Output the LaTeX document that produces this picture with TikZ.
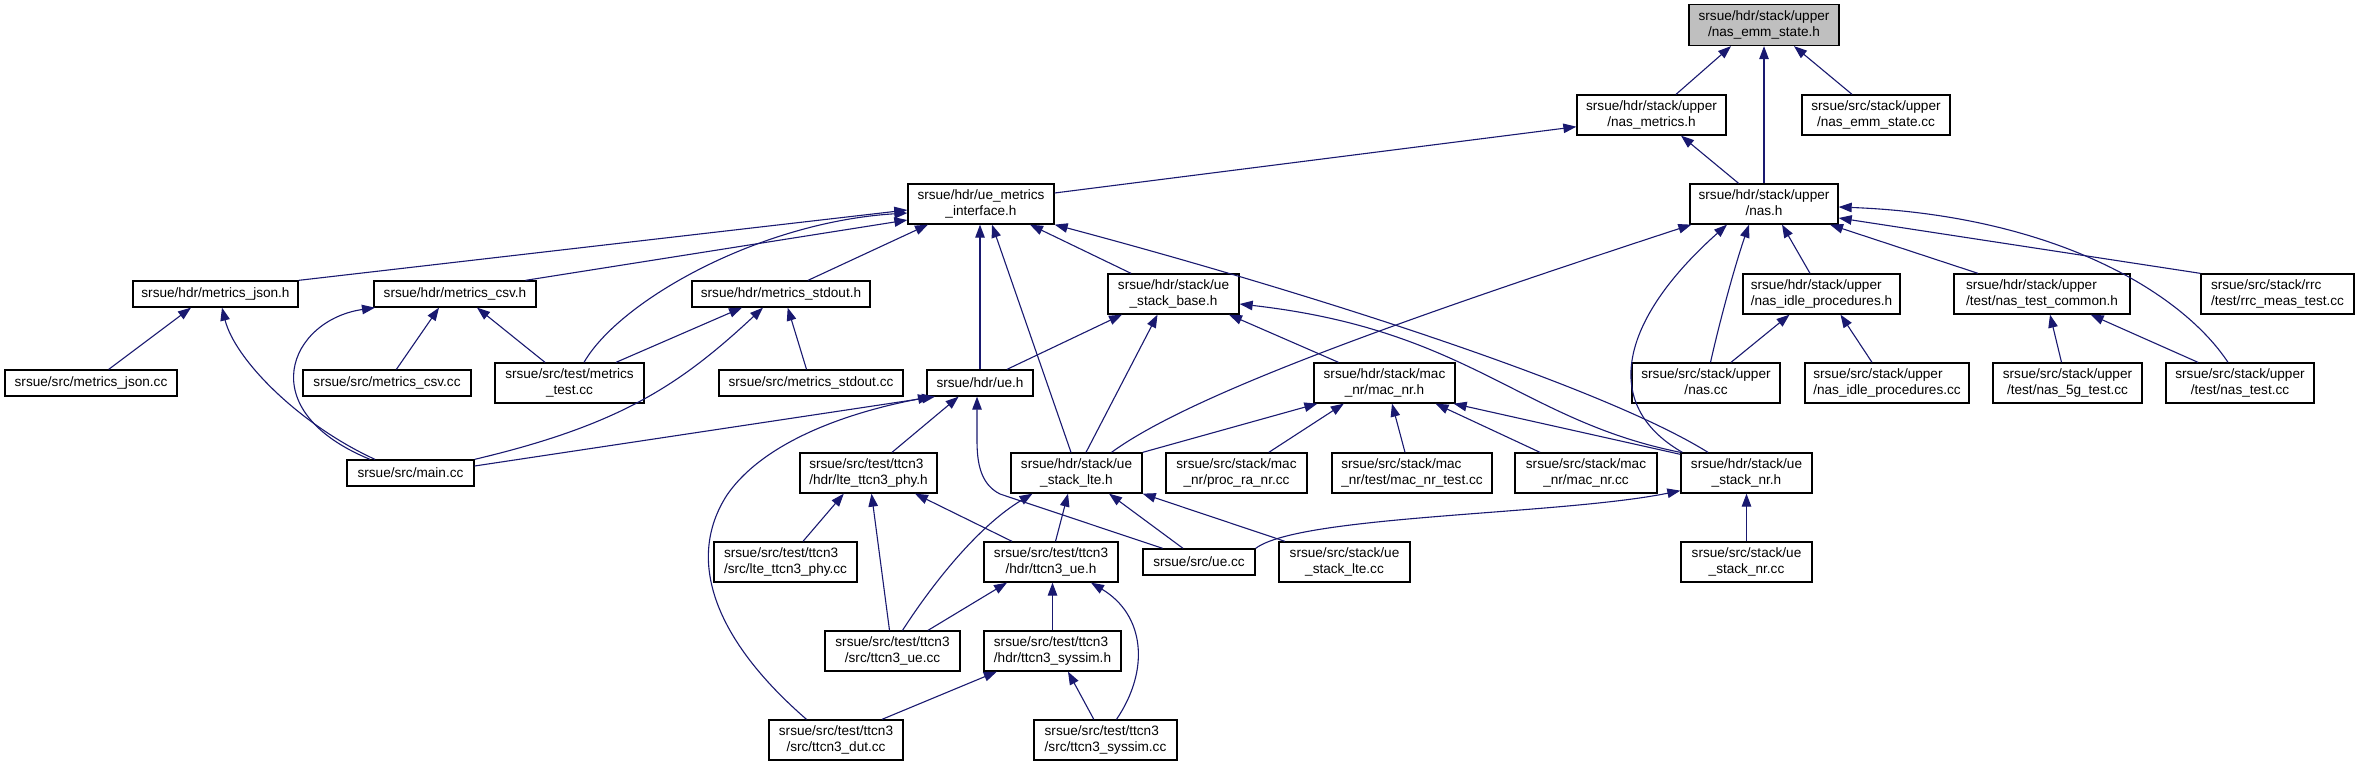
\documentclass[tikz,border=0pt]{standalone}
\usepackage{fontspec}
\setmainfont{Liberation Sans}
\usetikzlibrary{arrows.meta}
\definecolor{midblue}{HTML}{191970}
\definecolor{mainfill}{HTML}{BFBFBF}
\newcommand{\twoline}[2]{\begin{tabular}{@{}c@{}}\multicolumn{1}{@{}l@{}}{#1}\\#2\end{tabular}}
\newcommand{\bx}[6]{\node[box, minimum width=#4pt, minimum height=#5pt] (#1) at (#2,#3) {#6};}
\tikzset{
  box/.style={draw=black, line width=1.3pt, fill=white, inner sep=0pt,
    font=\fontsize{13.6}{16}\selectfont},
  dep/.style={draw=midblue, line width=1.1pt, -{Triangle[length=13pt,width=9.5pt]}}
}
\begin{document}
\begin{tikzpicture}[x=1pt,y=-1pt]
\fill[white] (0,0) rectangle (2357,767);
\useasboundingbox (0,0) rectangle (2357,767);
% nodes
\node[box, fill=mainfill, minimum width=150pt, minimum height=41pt] (emm) at (1764,25) {\twoline{srsue/hdr/stack/upper}{/nas\_emm\_state.h}};
\bx{nasm}{1651.5}{115}{149}{40}{\twoline{srsue/hdr/stack/upper}{/nas\_metrics.h}}
\bx{emmcc}{1876}{115}{148}{40}{\twoline{srsue/src/stack/upper}{/nas\_emm\_state.cc}}
\bx{uemi}{981}{204}{146}{40}{\twoline{srsue/hdr/ue\_metrics}{\_interface.h}}
\bx{nash}{1764}{204}{148}{40}{\twoline{srsue/hdr/stack/upper}{/nas.h}}
\bx{mjson}{215.5}{294}{165}{26}{srsue/hdr/metrics\_json.h}
\bx{mcsv}{455}{294}{162}{26}{srsue/hdr/metrics\_csv.h}
\bx{mstd}{781}{294}{178}{26}{srsue/hdr/metrics\_stdout.h}
\bx{ubase}{1173.5}{294}{131}{40}{\twoline{srsue/hdr/stack/ue}{\_stack\_base.h}}
\bx{nidle}{1821.5}{294}{157}{40}{\twoline{srsue/hdr/stack/upper}{/nas\_idle\_procedures.h}}
\bx{ntc}{2042}{294}{176}{40}{\twoline{srsue/hdr/stack/upper}{/test/nas\_test\_common.h}}
\bx{rrc}{2277.5}{294}{153}{40}{\twoline{srsue/src/stack/rrc}{/test/rrc\_meas\_test.cc}}
\bx{mjsoncc}{91}{383}{172}{26}{srsue/src/metrics\_json.cc}
\bx{mcsvcc}{387}{383}{168}{26}{srsue/src/metrics\_csv.cc}
\bx{mtest}{569.5}{383}{149}{40}{\twoline{srsue/src/test/metrics}{\_test.cc}}
\bx{mstdcc}{811}{383}{184}{26}{srsue/src/metrics\_stdout.cc}
\bx{ueh}{980}{383}{106}{26}{srsue/hdr/ue.h}
\bx{macnr}{1384.5}{383}{141}{40}{\twoline{srsue/hdr/stack/mac}{\_nr/mac\_nr.h}}
\bx{nascc}{1706}{383}{148}{40}{\twoline{srsue/src/stack/upper}{/nas.cc}}
\bx{nidlecc}{1887}{383}{164}{40}{\twoline{srsue/src/stack/upper}{/nas\_idle\_procedures.cc}}
\bx{n5g}{2067.5}{383}{149}{40}{\twoline{srsue/src/stack/upper}{/test/nas\_5g\_test.cc}}
\bx{ntest}{2240}{383}{148}{40}{\twoline{srsue/src/stack/upper}{/test/nas\_test.cc}}
\bx{maincc}{410.5}{473}{127}{26}{srsue/src/main.cc}
\bx{ltephy}{868.5}{473}{137}{40}{\twoline{srsue/src/test/ttcn3}{/hdr/lte\_ttcn3\_phy.h}}
\bx{ulte}{1076.5}{473}{131}{40}{\twoline{srsue/hdr/stack/ue}{\_stack\_lte.h}}
\bx{procra}{1236.5}{473}{141}{40}{\twoline{srsue/src/stack/mac}{\_nr/proc\_ra\_nr.cc}}
\bx{macnrtest}{1412}{473}{160}{40}{\twoline{srsue/src/stack/mac}{\_nr/test/mac\_nr\_test.cc}}
\bx{macnrcc}{1586}{473}{142}{40}{\twoline{srsue/src/stack/mac}{\_nr/mac\_nr.cc}}
\bx{unrh}{1746.5}{473}{131}{40}{\twoline{srsue/hdr/stack/ue}{\_stack\_nr.h}}
\bx{ltephycc}{785.5}{562}{143}{40}{\twoline{srsue/src/test/ttcn3}{/src/lte\_ttcn3\_phy.cc}}
\bx{ttueh}{1051}{562}{134}{40}{\twoline{srsue/src/test/ttcn3}{/hdr/ttcn3\_ue.h}}
\bx{uecc}{1199}{562}{112}{26}{srsue/src/ue.cc}
\bx{ultecc}{1344.5}{562}{131}{40}{\twoline{srsue/src/stack/ue}{\_stack\_lte.cc}}
\bx{unrcc}{1746.5}{562}{131}{40}{\twoline{srsue/src/stack/ue}{\_stack\_nr.cc}}
\bx{ttuecc}{892.5}{651}{135}{40}{\twoline{srsue/src/test/ttcn3}{/src/ttcn3\_ue.cc}}
\bx{tsimh}{1052.5}{651}{137}{40}{\twoline{srsue/src/test/ttcn3}{/hdr/ttcn3\_syssim.h}}
\bx{tdut}{836}{740}{134}{40}{\twoline{srsue/src/test/ttcn3}{/src/ttcn3\_dut.cc}}
\bx{tsimcc}{1105.5}{740}{143}{40}{\twoline{srsue/src/test/ttcn3}{/src/ttcn3\_syssim.cc}}
% edges
\draw[dep] ([xshift=24.5pt]nasm.north) -- ([xshift=-33pt]emm.south);
\draw[dep] (nash.north) -- (emm.south);
\draw[dep] ([xshift=-24pt]emmcc.north) -- ([xshift=30pt]emm.south);
\draw[dep] ([xshift=-25.4pt]nash.north) -- ([xshift=29.5pt]nasm.south);
\draw[dep] ([yshift=11pt]uemi.east) -- ([yshift=-11.7pt]nasm.west);
\draw[dep] (mjson.north east) -- ([yshift=-6pt]uemi.west);
\draw[dep] ([xshift=70.5pt]mcsv.north) -- ([yshift=-16pt]uemi.west);
\draw[dep] ([xshift=14.5pt]mtest.north) .. controls (620,300) and (760,222) .. ([yshift=-9pt]uemi.west);
\draw[dep] ([xshift=27pt]mstd.north) -- ([xshift=-53pt]uemi.south);
\draw[dep] (ueh.north) -- (ueh.north |- uemi.south);
\draw[dep] ([xshift=-5.5pt]ulte.north) -- ([xshift=11pt]uemi.south);
\draw[dep] ([xshift=-42.5pt]ubase.north) -- ([xshift=49pt]uemi.south);
\draw[dep] ([xshift=-38.5pt]unrh.north) .. controls (1600,385) and (1300,290) .. (uemi.south east);
\draw[dep] ([xshift=17.7pt]mjsoncc.north) -- ([xshift=-24.5pt]mjson.south);
\draw[dep] ([xshift=-35.5pt]maincc.north) .. controls (300,425) and (235,360) .. ([xshift=6.5pt]mjson.south);
\draw[dep] ([xshift=-40.5pt]maincc.north) .. controls (250,410) and (290,320) .. ([xshift=-80pt]mcsv.south);
\draw[dep] ([xshift=9.4pt]mcsvcc.north) -- ([xshift=-16pt]mcsv.south);
\draw[dep] ([xshift=-24.5pt]mtest.north) -- ([xshift=22pt]mcsv.south);
\draw[dep] ([xshift=46.5pt]mtest.north) -- ([xshift=-39pt]mstd.south);
\draw[dep] (maincc.north east) .. controls (620,425) and (680,385) .. ([xshift=-18pt]mstd.south);
\draw[dep] ([xshift=-4.5pt]mstdcc.north) -- ([xshift=6.7pt]mstd.south);
\draw[dep] ([xshift=27pt]ueh.north) -- ([xshift=-51.5pt]ubase.south);
\draw[dep] ([xshift=9.5pt]ulte.north) -- ([xshift=-16pt]ubase.south);
\draw[dep] ([xshift=-46pt]macnr.north) -- ([xshift=55.5pt]ubase.south);
\draw[dep] (unrh.north west) .. controls (1520,420) and (1470,330) .. ([yshift=-10pt]ubase.east);
\draw[dep] ([yshift=7pt]maincc.east) -- ([xshift=-45pt]ueh.south);
\draw[dep] ([xshift=-29.5pt]tdut.north) .. controls (715,640) and (685,560) .. (727,495) .. controls (767,437) and (860,410) .. ([xshift=-49pt]ueh.south);
\draw[dep] ([xshift=23.5pt]ltephy.north) -- ([xshift=-21.4pt]ueh.south);
\draw[dep] ([xshift=-36.4pt]uecc.north) -- (1000,494) .. controls (980,484) and (977,462) .. (977,440) -- ([xshift=-3pt]ueh.south);
\draw[dep] (ulte.north east) -- ([xshift=4pt]macnr.south west);
\draw[dep] ([xshift=32.3pt]procra.north) -- ([xshift=-40.7pt]macnr.south);
\draw[dep] ([xshift=-7pt]macnrtest.north) -- ([xshift=7.5pt]macnr.south);
\draw[dep] ([xshift=-46pt]macnrcc.north) -- ([xshift=51pt]macnr.south);
\draw[dep] ([yshift=-2pt]unrh.north west) -- ([xshift=-2pt]macnr.south east);
\draw[dep] ([xshift=35pt]ulte.north) .. controls (1190,395) and (1400,320) .. ([xshift=2pt]nash.south west);
\draw[dep] ([xshift=2pt]unrh.north west) .. controls (1600,405) and (1620,320) .. ([xshift=-37pt]nash.south);
\draw[dep] ([xshift=4.5pt]nascc.north) .. controls (1720,320) and (1735,265) .. ([xshift=-15pt]nash.south);
\draw[dep] ([xshift=-11.5pt]nidle.north) -- ([xshift=18pt]nash.south);
\draw[dep] ([xshift=-64pt]ntc.north) -- ([xshift=66pt]nash.south);
\draw[dep] (rrc.north west) -- ([yshift=-14pt]nash.east);
\draw[dep] ([xshift=-12pt]ntest.north) .. controls (2180,290) and (2050,215) .. ([yshift=-3pt]nash.east);
\draw[dep] ([xshift=25pt]nascc.north) -- ([xshift=-32pt]nidle.south);
\draw[dep] ([xshift=-15pt]nidlecc.north) -- ([xshift=19pt]nidle.south);
\draw[dep] ([xshift=-6pt]n5g.north) -- ([xshift=8pt]ntc.south);
\draw[dep] ([xshift=-42pt]ntest.north) -- ([xshift=48.6pt]ntc.south);
\draw[dep] ([xshift=17.5pt]ltephycc.north) -- ([xshift=-24.7pt]ltephy.south);
\draw[dep] ([xshift=-3pt]ttuecc.north) -- ([xshift=3pt]ltephy.south);
\draw[dep] ([xshift=-39pt]ttueh.north) -- ([xshift=46.5pt]ltephy.south);
\draw[dep] ([xshift=10pt]ttuecc.north) .. controls (935,580) and (980,525) .. ([xshift=-44pt]ulte.south);
\draw[dep] ([xshift=4.5pt]ttueh.north) -- ([xshift=-8.5pt]ulte.south);
\draw[dep] ([xshift=-16pt]uecc.north) -- ([xshift=32.5pt]ulte.south);
\draw[dep] ([xshift=-59.5pt]ultecc.north) -- (ulte.south east);
\draw[dep] (uecc.north east) .. controls (1300,515) and (1560,515) .. ([yshift=3pt]unrh.south west);
\draw[dep] (unrcc.north) -- (unrh.south);
\draw[dep] ([xshift=35.5pt]ttuecc.north) -- ([xshift=-44pt]ttueh.south);
\draw[dep] (tsimh.north) -- (tsimh.north |- ttueh.south);
\draw[dep] ([xshift=11pt]tsimcc.north) .. controls (1150,670) and (1145,615) .. ([xshift=40pt]ttueh.south);
\draw[dep] ([xshift=46pt]tdut.north) -- ([xshift=-55.7pt]tsimh.south);
\draw[dep] ([xshift=-11.7pt]tsimcc.north) -- ([xshift=15.5pt]tsimh.south);
\end{tikzpicture}
\end{document}
